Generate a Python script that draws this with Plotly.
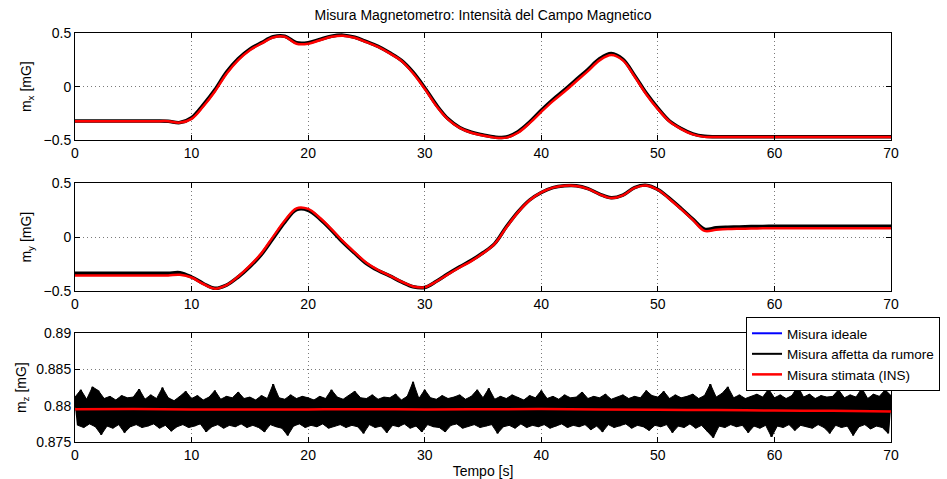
import numpy as np
import plotly.graph_objects as go
from plotly.subplots import make_subplots

# time base of the x / y components (1 s sampling)
t_xy = np.arange(0, 71)

mx_ideal = [-0.320, -0.320, -0.320, -0.320, -0.320, -0.320, -0.320, -0.320, -0.322, -0.335,
            -0.290, -0.170, -0.030, 0.135, 0.260, 0.350, 0.410, 0.465, 0.470, 0.410,
            0.410, 0.440, 0.470, 0.480, 0.460, 0.420, 0.375, 0.315, 0.245, 0.135,
            -0.010, -0.170, -0.300, -0.380, -0.425, -0.450, -0.470, -0.470, -0.420, -0.330,
            -0.220, -0.120, -0.030, 0.065, 0.160, 0.260, 0.310, 0.255, 0.105, -0.060,
            -0.200, -0.320, -0.390, -0.440, -0.463, -0.466, -0.466, -0.466, -0.466, -0.466,
            -0.466, -0.466, -0.466, -0.466, -0.466, -0.466, -0.466, -0.466, -0.466, -0.466,
            -0.466]

mx_est = [-0.322, -0.322, -0.322, -0.322, -0.322, -0.322, -0.322, -0.322, -0.322, -0.335,
          -0.300, -0.185, -0.045, 0.120, 0.248, 0.340, 0.402, 0.458, 0.465, 0.400,
          0.400, 0.432, 0.465, 0.475, 0.455, 0.415, 0.370, 0.310, 0.240, 0.125,
          -0.020, -0.180, -0.305, -0.385, -0.430, -0.455, -0.475, -0.475, -0.430, -0.340,
          -0.235, -0.135, -0.045, 0.050, 0.145, 0.245, 0.295, 0.245, 0.095, -0.070,
          -0.210, -0.325, -0.395, -0.445, -0.468, -0.470, -0.470, -0.470, -0.470, -0.470,
          -0.470, -0.470, -0.470, -0.470, -0.470, -0.470, -0.470, -0.470, -0.470, -0.470,
          -0.470]

my_ideal = [-0.335, -0.335, -0.335, -0.335, -0.335, -0.335, -0.335, -0.335, -0.335, -0.330,
            -0.370, -0.430, -0.475, -0.445, -0.370, -0.275, -0.160, -0.010, 0.140, 0.255,
            0.250, 0.170, 0.065, -0.050, -0.150, -0.245, -0.310, -0.360, -0.415, -0.460,
            -0.467, -0.410, -0.340, -0.275, -0.215, -0.145, -0.060, 0.096, 0.235, 0.345,
            0.415, 0.460, 0.477, 0.477, 0.450, 0.400, 0.365, 0.390, 0.460, 0.483,
            0.443, 0.360, 0.266, 0.167, 0.074, 0.087, 0.092, 0.095, 0.098, 0.100,
            0.102, 0.102, 0.102, 0.102, 0.102, 0.102, 0.102, 0.102, 0.102, 0.102,
            0.102]

my_est = [-0.355, -0.355, -0.355, -0.355, -0.355, -0.355, -0.355, -0.355, -0.355, -0.350,
          -0.375, -0.435, -0.478, -0.445, -0.365, -0.265, -0.148, 0.005, 0.155, 0.268,
          0.262, 0.180, 0.075, -0.040, -0.142, -0.238, -0.305, -0.358, -0.412, -0.458,
          -0.465, -0.412, -0.345, -0.282, -0.222, -0.150, -0.062, 0.090, 0.230, 0.342,
          0.415, 0.460, 0.477, 0.475, 0.448, 0.398, 0.363, 0.388, 0.458, 0.480,
          0.440, 0.355, 0.260, 0.160, 0.058, 0.068, 0.075, 0.078, 0.080, 0.082,
          0.083, 0.083, 0.083, 0.083, 0.083, 0.083, 0.083, 0.083, 0.083, 0.083,
          0.083]

# z component: ideal and INS estimate every 5 s
t_z = np.arange(0, 71, 5)
mz_ideal = [0.87952, 0.87952, 0.87952, 0.87952, 0.87952, 0.87952, 0.87952, 0.87952,
            0.87952, 0.87952, 0.87952, 0.87952, 0.87952, 0.87952, 0.87952]
mz_est = [0.87952, 0.87955, 0.87950, 0.87948, 0.87950, 0.87952, 0.87950, 0.87952,
          0.87955, 0.87950, 0.87945, 0.87940, 0.87935, 0.87930, 0.87920]

# noisy z measurement: upper excursions at t = 0, 0.5, ... 70 s
mz_noisy_hi = [0.8812, 0.8822, 0.8809, 0.8826, 0.8821, 0.8810, 0.8813, 0.8808, 0.8814, 0.8811,
               0.8812, 0.8823, 0.8809, 0.8815, 0.8810, 0.8825, 0.8811, 0.8807, 0.8813, 0.8820,
               0.8810, 0.8814, 0.8808, 0.8812, 0.8821, 0.8809, 0.8813, 0.8811, 0.8819, 0.8810,
               0.8812, 0.8808, 0.8814, 0.8810, 0.8830, 0.8811, 0.8809, 0.8815, 0.8810, 0.8813,
               0.8811, 0.8808, 0.8813, 0.8810, 0.8822, 0.8812, 0.8809, 0.8814, 0.8820, 0.8811,
               0.8810, 0.8815, 0.8809, 0.8812, 0.8811, 0.8816, 0.8808, 0.8813, 0.8833, 0.8810,
               0.8822, 0.8811, 0.8809, 0.8814, 0.8810, 0.8812, 0.8815, 0.8809, 0.8813, 0.8822,
               0.8811, 0.8824, 0.8809, 0.8813, 0.8810, 0.8815, 0.8812, 0.8808, 0.8814, 0.8811,
               0.8821, 0.8810, 0.8813, 0.8809, 0.8815, 0.8811, 0.8812, 0.8819, 0.8810, 0.8813,
               0.8811, 0.8816, 0.8809, 0.8812, 0.8815, 0.8810, 0.8813, 0.8811, 0.8821, 0.8814,
               0.8812, 0.8820, 0.8810, 0.8815, 0.8811, 0.8813, 0.8816, 0.8810, 0.8814, 0.8830,
               0.8812, 0.8817, 0.8826, 0.8811, 0.8815, 0.8810, 0.8813, 0.8816, 0.8812, 0.8823,
               0.8811, 0.8815, 0.8810, 0.8814, 0.8827, 0.8812, 0.8816, 0.8810, 0.8814, 0.8812,
               0.8813, 0.8822, 0.8811, 0.8815, 0.8812, 0.8824, 0.8810, 0.8816, 0.8813, 0.8822,
               0.8814]

# lower excursions at t = 0.25, 0.75, ... 69.75 s
mz_noisy_lo = [0.8773, 0.8770, 0.8775, 0.8771, 0.8760, 0.8772, 0.8769, 0.8774, 0.8763, 0.8771,
               0.8774, 0.8770, 0.8772, 0.8775, 0.8769, 0.8773, 0.8765, 0.8771, 0.8774, 0.8770,
               0.8772, 0.8775, 0.8764, 0.8771, 0.8774, 0.8769, 0.8773, 0.8771, 0.8775, 0.8770,
               0.8773, 0.8770, 0.8764, 0.8774, 0.8771, 0.8769, 0.8759, 0.8772, 0.8775, 0.8770,
               0.8773, 0.8771, 0.8775, 0.8769, 0.8772, 0.8774, 0.8770, 0.8773, 0.8771, 0.8762,
               0.8774, 0.8770, 0.8772, 0.8763, 0.8773, 0.8771, 0.8775, 0.8769, 0.8772, 0.8764,
               0.8774, 0.8771, 0.8770, 0.8764, 0.8773, 0.8775, 0.8769, 0.8772, 0.8774, 0.8770,
               0.8772, 0.8774, 0.8762, 0.8771, 0.8773, 0.8769, 0.8775, 0.8770, 0.8773, 0.8771,
               0.8774, 0.8769, 0.8772, 0.8775, 0.8770, 0.8773, 0.8771, 0.8774, 0.8767, 0.8772,
               0.8764, 0.8774, 0.8770, 0.8772, 0.8775, 0.8769, 0.8773, 0.8771, 0.8766, 0.8773,
               0.8771, 0.8774, 0.8763, 0.8772, 0.8770, 0.8775, 0.8769, 0.8773, 0.8765, 0.8756,
               0.8772, 0.8770, 0.8774, 0.8771, 0.8773, 0.8763, 0.8772, 0.8769, 0.8773, 0.8757,
               0.8772, 0.8770, 0.8774, 0.8766, 0.8773, 0.8771, 0.8769, 0.8774, 0.8770, 0.8762,
               0.8773, 0.8770, 0.8772, 0.8759, 0.8771, 0.8774, 0.8768, 0.8772, 0.8770, 0.8762]

x_ticks = [0, 10, 20, 30, 40, 50, 60, 70]
xy_ticks = [-0.5, 0, 0.5]
xy_ticktext = ["\u22120.5", "0", "0.5"]
z_ticks = [0.875, 0.88, 0.885, 0.89]
z_ticktext = ["0.875", "0.88", "0.885", "0.89"]

# sample times of the upper / lower excursions
t_hi = [i * 0.5 for i in range(len(mz_noisy_hi))]
t_lo = [i * 0.5 + 0.25 for i in range(len(mz_noisy_lo))]

# interleave upper / lower excursions into one noisy trace
t_noisy = []
mz_noisy = []
for i, hi in enumerate(mz_noisy_hi):
    t_noisy.append(t_hi[i])
    mz_noisy.append(hi)
    if i < len(mz_noisy_lo):
        t_noisy.append(t_lo[i])
        mz_noisy.append(mz_noisy_lo[i])

# closed outline of the noise band (upper edge, then lower edge backwards)
band_t = t_hi + t_lo[::-1]
band_y = mz_noisy_hi + mz_noisy_lo[::-1]

BLUE = "#0000ff"
BLACK = "#000000"
RED = "#ff0000"
FONT = "Liberation Sans, Arial, Helvetica, sans-serif"

fig = make_subplots(rows=3, cols=1)

# top: m_x
fig.add_trace(go.Scatter(x=t_xy, y=mx_ideal, mode="lines", line=dict(color=BLUE, width=2, shape="spline"),
                         showlegend=False), row=1, col=1)
fig.add_trace(go.Scatter(x=t_xy, y=mx_ideal, mode="lines", line=dict(color=BLACK, width=3.5, shape="spline"),
                         showlegend=False), row=1, col=1)
fig.add_trace(go.Scatter(x=t_xy, y=mx_est, mode="lines", line=dict(color=RED, width=2.5, shape="spline"),
                         showlegend=False), row=1, col=1)

# middle: m_y
fig.add_trace(go.Scatter(x=t_xy, y=my_ideal, mode="lines", line=dict(color=BLUE, width=2, shape="spline"),
                         showlegend=False), row=2, col=1)
fig.add_trace(go.Scatter(x=t_xy, y=my_ideal, mode="lines", line=dict(color=BLACK, width=3.5, shape="spline"),
                         showlegend=False), row=2, col=1)
fig.add_trace(go.Scatter(x=t_xy, y=my_est, mode="lines", line=dict(color=RED, width=2.5, shape="spline"),
                         showlegend=False), row=2, col=1)

# bottom: m_z (carries the legend)
fig.add_trace(go.Scatter(x=t_z, y=mz_ideal, mode="lines", name="Misura ideale",
                         line=dict(color=BLUE, width=2)), row=3, col=1)
fig.add_trace(go.Scatter(x=band_t, y=band_y, mode="lines", fill="toself", fillcolor=BLACK,
                         line=dict(color=BLACK, width=1), showlegend=False, hoverinfo="skip"),
              row=3, col=1)
fig.add_trace(go.Scatter(x=t_noisy, y=mz_noisy, mode="lines", name="Misura affetta da rumore",
                         line=dict(color=BLACK, width=2)), row=3, col=1)
fig.add_trace(go.Scatter(x=t_z, y=mz_est, mode="lines", name="Misura stimata (INS)",
                         line=dict(color=RED, width=2.5, shape="spline")), row=3, col=1)

H_PLOT = 409.0
domains = [
    [(442 - 140.3) / H_PLOT, 1.0],
    [(442 - 291.0) / H_PLOT, (442 - 183.3) / H_PLOT],
    [0.0, (442 - 333.3) / H_PLOT],
]

axis_common = dict(
    showline=True, linecolor="black", linewidth=1, mirror="ticks",
    ticks="inside", ticklen=5, tickwidth=1, tickcolor="black",
    showgrid=True, gridcolor="#7a7a7a", griddash="1px,3px", gridwidth=1,
    zeroline=False, tickfont=dict(family=FONT, size=14, color="black"),
)

for i in range(3):
    xa = "xaxis" if i == 0 else f"xaxis{i + 1}"
    ya = "yaxis" if i == 0 else f"yaxis{i + 1}"
    fig.layout[xa].update(domain=[0, 1], range=[0, 70], tickvals=x_ticks, **axis_common)
    fig.layout[ya].update(domain=domains[i], **axis_common)

title_font = dict(family=FONT, size=14, color="black")
fig.layout.yaxis.update(range=[-0.5, 0.5], tickvals=xy_ticks, ticktext=xy_ticktext,
                        title=dict(text="m<sub>x</sub> [mG]", standoff=8, font=title_font))
fig.layout.yaxis2.update(range=[-0.5, 0.5], tickvals=xy_ticks, ticktext=xy_ticktext,
                         title=dict(text="m<sub>y</sub> [mG]", standoff=8, font=title_font))
fig.layout.yaxis3.update(range=[0.875, 0.89], tickvals=z_ticks, ticktext=z_ticktext,
                         title=dict(text="m<sub>z</sub> [mG]", standoff=6, font=title_font))
fig.layout.xaxis3.update(title=dict(text="Tempo [s]", standoff=4, font=title_font))

fig.update_layout(
    width=947, height=479,
    margin=dict(l=75, r=56, t=33, b=37, autoexpand=False),
    paper_bgcolor="white", plot_bgcolor="white",
    font=dict(family=FONT, size=14, color="black"),
    title=dict(text="Misura Magnetometro: Intensità del Campo Magnetico",
               x=483 / 947, xanchor="center", y=1 - 15 / 479, yanchor="middle",
               font=title_font),
    legend=dict(x=(746 - 75) / 816, xanchor="left", y=(442 - 317) / H_PLOT, yanchor="top",
                bgcolor="white", bordercolor="black", borderwidth=1,
                font=dict(family=FONT, size=13.5, color="black"),
                tracegroupgap=0, itemwidth=30),
    showlegend=True,
)

fig.write_html("out.html")
